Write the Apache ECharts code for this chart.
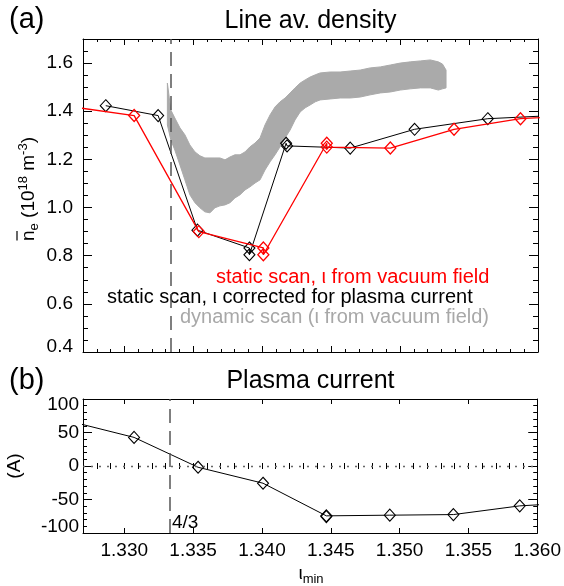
<!DOCTYPE html>
<html><head><meta charset="utf-8">
<script src="https://cdn.jsdelivr.net/npm/echarts@6/dist/echarts.min.js"></script>
<style>html,body{margin:0;padding:0;background:#fff}#c{width:564px;height:586px}</style>
</head><body><div id="c"></div>
<script>
// ---------- data ----------
const xTicks = [1.330, 1.335, 1.340, 1.345, 1.350, 1.355, 1.360];
const densTicks = [0.4, 0.6, 0.8, 1.0, 1.2, 1.4, 1.6];
const currTicks = [-100, -50, 0, 50, 100];

// static scan, iota from vacuum field (red)
const staticVacX = [1.3256, 1.33071, 1.33540, 1.34008, 1.34008, 1.34468, 1.34468, 1.34929, 1.35391, 1.35873, 1.3634];
const staticVacY = [1.423, 1.382, 0.900, 0.832, 0.804, 1.267, 1.251, 1.247, 1.325, 1.369, 1.384];
// static scan, iota corrected for plasma current (black)
const staticCorrX = [1.32865, 1.33245, 1.33530, 1.33907, 1.33907, 1.34173, 1.34180, 1.34638, 1.35105, 1.35636, 1.3618];
const staticCorrY = [1.423, 1.382, 0.906, 0.832, 0.804, 1.267, 1.256, 1.247, 1.325, 1.369, 1.384];
// dynamic scan (grey band: upper and lower envelope)
const dynX = [1.33312,1.33337,1.33366,1.33403,1.33439,1.33475,1.33512,1.33548,1.33584,1.33621,1.33657,1.33693,1.33730,1.33766,1.33802,1.33839,1.33875,1.33911,1.33948,1.33984,1.34020,1.34057,1.34093,1.34129,1.34166,1.34202,1.34238,1.34275,1.34311,1.34347,1.34384,1.34420,1.34493,1.34565,1.34638,1.34711,1.34783,1.34856,1.34929,1.35001,1.35074,1.35147,1.35219,1.35277,1.35307,1.35333];
const dynTop = [1.517,1.405,1.372,1.331,1.302,1.260,1.231,1.215,1.206,1.206,1.206,1.206,1.198,1.210,1.219,1.219,1.231,1.252,1.268,1.289,1.343,1.385,1.418,1.439,1.455,1.476,1.497,1.517,1.530,1.542,1.551,1.559,1.563,1.563,1.567,1.571,1.580,1.584,1.592,1.600,1.605,1.609,1.613,1.605,1.596,1.571];
const dynBottom = [1.343,1.281,1.239,1.177,1.115,1.053,1.020,0.999,0.982,0.978,0.999,1.007,1.011,1.020,1.040,1.053,1.073,1.086,1.102,1.115,1.156,1.190,1.219,1.252,1.289,1.322,1.364,1.397,1.414,1.426,1.439,1.447,1.451,1.455,1.455,1.459,1.468,1.476,1.480,1.488,1.493,1.497,1.497,1.488,1.493,1.497];
// plasma current (A)
const currX = [1.3256, 1.33071, 1.33536, 1.34008, 1.34468, 1.34468, 1.34929, 1.35391, 1.35873, 1.3634];
const currY = [69, 42.7, -1.9, -25.7, -74.4, -75.5, -73.4, -72.5, -59.5, -54];
const resonance = 4 / 3;

// ---------- helpers ----------
const FONT = "'Liberation Sans', Arial, Helvetica, sans-serif";
const zip = (a, b) => a.map((v, i) => [v, b[i]]);
const ctx = document.createElement('canvas').getContext('2d');
function tw(t, s) { ctx.font = s + 'px ' + FONT; return ctx.measureText(t).width; }
function txt(x, y, text, size, color, align, extra) {
  return Object.assign({ type: 'text', x: x, y: y, silent: true, style: {
    text: text, fill: color || '#000', fontSize: size, fontFamily: FONT,
    align: align || 'left', textAlign: align || 'left', verticalAlign: 'middle', textVerticalAlign: 'middle' } }, extra || {});
}
function tokenRow(tokens, startX) {
  let x = startX; const out = [];
  tokens.forEach(tk => { out.push(txt(x, tk.dy, tk.t, tk.s, '#000', 'left')); x += tw(tk.t, tk.s); });
  return out;
}
const black = { color: '#000', width: 1 };

function xAxes(grid, tickLen, withLabels) {
  const base = { type: 'value', gridIndex: grid, min: 1.327, max: 1.360, splitLine: { show: false } };
  const lineOn = { show: true, onZero: false, lineStyle: black };
  const major = { show: true, inside: true, length: tickLen, customValues: xTicks, lineStyle: black };
  const minor = { show: true, inside: true, length: Math.round(tickLen / 2), lineStyle: black };
  return [
    Object.assign({}, base, { position: 'bottom', axisLine: lineOn, axisTick: major,
      axisLabel: withLabels ? { show: true, customValues: xTicks, formatter: v => v.toFixed(3),
        fontSize: 19, fontFamily: FONT, color: '#000', margin: 8 } : { show: false } }),
    Object.assign({}, base, { position: 'bottom', interval: 0.001, axisLine: { show: false }, axisTick: minor, axisLabel: { show: false } }),
    Object.assign({}, base, { position: 'top', axisLine: lineOn, axisTick: major, axisLabel: { show: false } }),
    Object.assign({}, base, { position: 'top', interval: 0.001, axisLine: { show: false }, axisTick: minor, axisLabel: { show: false } })
  ];
}
const lblFont = { fontSize: 19, fontFamily: FONT, color: '#000' };
const yAxes = [
  // top panel
  { type: 'value', gridIndex: 0, position: 'left', min: 0.4, max: 1.7, splitLine: { show: false },
    axisLine: { show: true, onZero: false, lineStyle: black },
    axisTick: { show: true, inside: true, length: 9, customValues: densTicks, lineStyle: black },
    axisLabel: Object.assign({ show: true, customValues: densTicks, margin: 10,
      formatter: v => Math.abs(v - 0.4) < 1e-9 ? '{lo|' + v.toFixed(1) + '}' : v.toFixed(1),
      rich: { lo: Object.assign({ padding: [0, 0, 11, 0] }, lblFont) } }, lblFont) },
  { type: 'value', gridIndex: 0, position: 'left', min: 0.4, max: 1.7, interval: 0.05, splitLine: { show: false },
    axisLine: { show: false }, axisTick: { show: true, inside: true, length: 5, lineStyle: black }, axisLabel: { show: false } },
  { type: 'value', gridIndex: 0, position: 'right', min: 0.4, max: 1.7, splitLine: { show: false },
    axisLine: { show: true, onZero: false, lineStyle: black },
    axisTick: { show: true, inside: true, length: 9, customValues: densTicks, lineStyle: black }, axisLabel: { show: false } },
  { type: 'value', gridIndex: 0, position: 'right', min: 0.4, max: 1.7, interval: 0.05, splitLine: { show: false },
    axisLine: { show: false }, axisTick: { show: true, inside: true, length: 5, lineStyle: black }, axisLabel: { show: false } },
  // bottom panel
  { type: 'value', gridIndex: 1, position: 'left', min: -100, max: 100, interval: 50, splitLine: { show: false },
    axisLine: { show: true, onZero: false, lineStyle: black },
    axisTick: { show: true, inside: true, length: 9, customValues: currTicks, lineStyle: black },
    axisLabel: Object.assign({ show: true, customValues: currTicks, margin: 4,
      formatter: v => v === 100 ? '{hi|100}' : (v === -100 ? '{lo|-100}' : String(v)),
      rich: { hi: Object.assign({ padding: [11, 0, 0, 0] }, lblFont), lo: Object.assign({ padding: [0, 0, 13, 0] }, lblFont) } }, lblFont) },
  { type: 'value', gridIndex: 1, position: 'left', min: -100, max: 100, interval: 10, splitLine: { show: false },
    axisLine: { show: false }, axisTick: { show: true, inside: true, length: 4, lineStyle: black }, axisLabel: { show: false } },
  { type: 'value', gridIndex: 1, position: 'right', min: -100, max: 100, interval: 50, splitLine: { show: false },
    axisLine: { show: true, onZero: false, lineStyle: black },
    axisTick: { show: true, inside: true, length: 9, customValues: currTicks, lineStyle: black }, axisLabel: { show: false } },
  { type: 'value', gridIndex: 1, position: 'right', min: -100, max: 100, interval: 10, splitLine: { show: false },
    axisLine: { show: false }, axisTick: { show: true, inside: true, length: 4, lineStyle: black }, axisLabel: { show: false } }
];

const GREY = '#aaaaaa';
const series = [
  { type: 'custom', name: 'dynamic', xAxisIndex: 0, yAxisIndex: 0, clip: true, z: 1, silent: true,
    data: dynX.map((x, i) => [x, dynTop[i], dynBottom[i]]),
    renderItem: function (params, api) {
      if (params.dataIndex !== 0) return null;
      const pts = [];
      for (let i = 0; i < dynX.length; i++) pts.push(api.coord([dynX[i], dynTop[i]]));
      for (let i = dynX.length - 1; i >= 0; i--) pts.push(api.coord([dynX[i], dynBottom[i]]));
      return { type: 'polygon', shape: { points: pts }, style: { fill: GREY, stroke: GREY, lineWidth: 1 } };
    } },
  { type: 'line', name: 'corr', xAxisIndex: 0, yAxisIndex: 0, data: zip(staticCorrX, staticCorrY),
    symbol: 'diamond', symbolSize: [11, 12], lineStyle: { color: '#000', width: 1 },
    itemStyle: { color: 'rgba(0,0,0,0)', borderColor: '#000', borderWidth: 1.1 }, z: 3,
    markLine: { silent: true, precision: 6, symbol: ['none', 'none'], label: { show: false },
      lineStyle: { color: '#555', type: [14, 8], width: 1.5 }, data: [{ xAxis: resonance }] } },
  { type: 'line', name: 'vac', xAxisIndex: 0, yAxisIndex: 0, data: zip(staticVacX, staticVacY),
    symbol: 'diamond', symbolSize: [11, 12], lineStyle: { color: '#ff0000', width: 1.3 },
    itemStyle: { color: 'rgba(0,0,0,0)', borderColor: '#ff0000', borderWidth: 1.3 }, z: 4 },
  { type: 'line', name: 'current', xAxisIndex: 4, yAxisIndex: 4, data: zip(currX, currY),
    symbol: 'diamond', symbolSize: [11, 12], lineStyle: { color: '#000', width: 1 },
    itemStyle: { color: 'rgba(0,0,0,0)', borderColor: '#000', borderWidth: 1.1 }, z: 3,
    markLine: { silent: true, precision: 6, symbol: ['none', 'none'], label: { show: false },
      data: [
        { xAxis: resonance, lineStyle: { color: '#555', type: [14, 8], width: 1.5 } },
        { yAxis: 0, lineStyle: { color: '#666', type: [2, 6], width: 1.3 } }
      ] } }
];

// axis titles built from text tokens
const yTok = [{ t: 'n', s: 19, dy: 0 }, { t: 'e', s: 13, dy: 5 }, { t: ' (10', s: 19, dy: 0 },
  { t: '18', s: 13, dy: -6 }, { t: ' m', s: 19, dy: 0 }, { t: '-3', s: 13, dy: -6 }, { t: ')', s: 19, dy: 0 }];
const yW = yTok.reduce((a, tk) => a + tw(tk.t, tk.s), 0);
const nW = tw('n', 19);
const xTok = [{ t: 'ι', s: 19, dy: 0 }, { t: 'min', s: 13, dy: 6 }];
const xW = xTok.reduce((a, tk) => a + tw(tk.t, tk.s), 0);

const graphic = [
  txt(9, 20, '(a)', 29),
  txt(9, 381, '(b)', 29),
  txt(310.5, 21, 'Line av. density', 25, '#000', 'center'),
  txt(310.5, 381, 'Plasma current', 25, '#000', 'center'),
  txt(216, 277, 'static scan, ι from vacuum field', 20, '#ff0000'),
  txt(107, 297, 'static scan, ι corrected for plasma current', 20, '#000'),
  txt(180, 317, 'dynamic scan (ι from vacuum field)', 20, '#a8a8a8'),
  txt(172, 523, '4/3', 19),
  { type: 'group', x: 29, y: 189, rotation: Math.PI / 2, silent: true,
    children: tokenRow(yTok, -yW / 2).concat([{ type: 'line', silent: true,
      shape: { x1: -yW / 2 + 0.5, y1: -12, x2: -yW / 2 + nW - 0.5, y2: -12 }, style: { stroke: '#000', lineWidth: 1.2 } }]) },
  { type: 'group', x: 15, y: 466, rotation: Math.PI / 2, silent: true, children: [txt(0, 0, '(A)', 19, '#000', 'center')] },
  { type: 'group', x: 311 - xW / 2, y: 573.5, silent: true, children: tokenRow(xTok, 0) }
];

const chart = echarts.init(document.getElementById('c'), null, { renderer: 'canvas' });
chart.setOption({
  animation: false,
  backgroundColor: '#fff',
  grid: [
    { left: 83, top: 39, width: 455, height: 313 },
    { left: 83, top: 399, width: 455, height: 134 }
  ],
  xAxis: xAxes(0, 6, false).concat(xAxes(1, 5, true)),
  yAxis: yAxes,
  series: series,
  graphic: graphic
});
</script>
</body></html>
